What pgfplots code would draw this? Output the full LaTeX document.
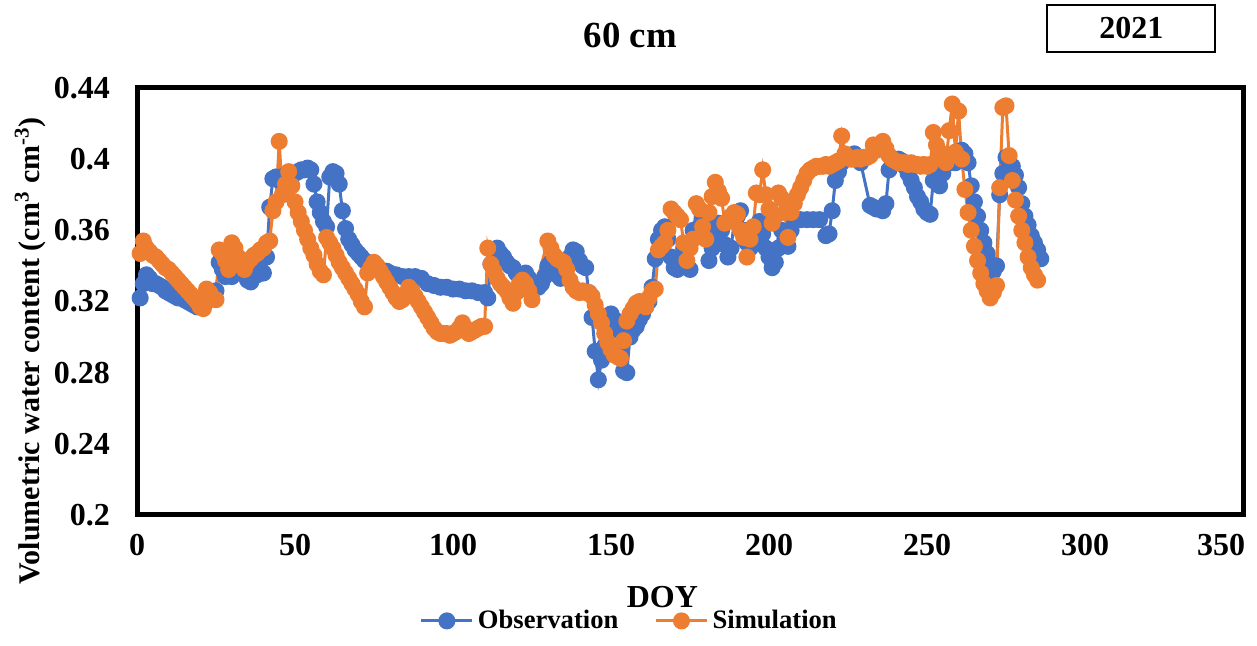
\documentclass[border=0pt]{standalone}
\usepackage{fontspec}
\setmainfont{Liberation Serif}
\usepackage{pgfplots}
\pgfplotsset{compat=1.18}
\definecolor{obs}{HTML}{4472C4}
\definecolor{sim}{HTML}{ED7D31}
\begin{document}
\begin{tikzpicture}
\begin{axis}[
  scale only axis, width=553pt, height=213.5pt,
  at={(0,0)}, anchor=south west,
  xmin=0, xmax=350, ymin=0.2, ymax=0.44,
  xtick={0,50,100,150,200,250,300},
  extra x ticks={350},
  extra x tick style={xticklabel style={xshift=-11pt}},
  ytick={0.2,0.24,0.28,0.32,0.36,0.4,0.44},
  major tick length=0pt,
  axis line style={line width=2.5pt},
  /pgf/number format/assume math mode=true,
  tick label style={font=\fontsize{16}{16}\selectfont\bfseries},
  yticklabel style={/pgf/number format/fixed, /pgf/number format/precision=2, xshift=-10pt},
  xticklabel style={yshift=-6pt},
  xlabel={DOY},
  xlabel style={font=\fontsize{16}{16}\selectfont\bfseries, at={(axis description cs:0.475,-0.192)}, anchor=center},
  ylabel={Volumetric water content (cm\textsuperscript{3} cm\textsuperscript{-3})},
  ylabel style={font=\fontsize{15}{15}\selectfont\bfseries, at={(axis description cs:-0.0967,0.385)}, anchor=center},
  clip=false,
  legend columns=2,
  legend style={at={(axis description cs:0.446,-0.248)}, anchor=center, draw=none, fill=none,
    font=\fontsize{13.3}{13.3}\selectfont\bfseries,
    /tikz/every even column/.append style={column sep=16pt}},
  legend image code/.code={\draw[#1] (0cm,0cm) -- (0.9cm,0cm); \draw[#1, mark repeat=1] plot coordinates {(0.45cm,0cm)};},
]
\addplot[color=obs, line width=1.5pt, mark=*, mark size=3.5pt, mark options={solid, fill=obs, draw=obs}] coordinates {
(1,0.322) (2,0.330) (3,0.335) (4,0.333) (5,0.330) (6,0.330) (7,0.329) (8,0.328) (9,0.326) (10,0.325)
(11,0.324) (12,0.323) (13,0.322) (14,0.322) (15,0.321) (16,0.320) (17,0.319) (18,0.318) (19,0.317) (20,0.317)
(21,0.318) (22,0.320) (23,0.322) (24,0.325) (25,0.326) (26,0.342) (27,0.338) (28,0.334) (29,0.336) (30,0.334)
(31,0.337) (32,0.340) (33,0.336) (34,0.335) (35,0.332) (36,0.331) (37,0.334) (38,0.335) (39,0.338) (40,0.336)
(41,0.345) (42,0.373) (43,0.389) (44,0.390) (45,0.388) (46,0.390) (47,0.391) (48,0.392) (49,0.391) (50,0.392)
(51,0.393) (52,0.394) (53,0.394) (54,0.395) (55,0.394) (56,0.386) (57,0.376) (58,0.370) (59,0.365) (60,0.362)
(61,0.390) (62,0.393) (63,0.392) (64,0.386) (65,0.371) (66,0.361) (67,0.355) (68,0.352) (69,0.349) (70,0.347)
(71,0.345) (72,0.343) (73,0.342) (74,0.341) (75,0.340) (76,0.339) (77,0.338) (78,0.337) (79,0.337) (80,0.336)
(82,0.335) (84,0.334) (86,0.334) (88,0.334) (90,0.333) (92,0.330) (94,0.329) (96,0.328) (98,0.328) (100,0.327)
(102,0.327) (104,0.326) (106,0.326) (108,0.325) (110,0.325) (111,0.322) (112,0.341) (113,0.349) (114,0.350) (115,0.347)
(116,0.345) (117,0.342) (118,0.340) (119,0.339) (120,0.336) (121,0.335) (122,0.333) (123,0.336) (124,0.333) (125,0.330)
(126,0.329) (127,0.328) (128,0.330) (129,0.334) (130,0.340) (131,0.342) (132,0.338) (133,0.335) (134,0.333) (135,0.334)
(136,0.340) (137,0.345) (138,0.349) (139,0.348) (140,0.343) (141,0.340) (142,0.339) (143,0.325) (144,0.311) (145,0.292)
(146,0.276) (147,0.287) (148,0.295) (149,0.305) (150,0.313) (151,0.310) (152,0.304) (153,0.292) (154,0.281) (155,0.280)
(156,0.300) (157,0.304) (158,0.306) (159,0.310) (160,0.313) (161,0.317) (162,0.320) (163,0.328) (164,0.344) (165,0.355)
(166,0.360) (167,0.362) (168,0.355) (169,0.345) (170,0.339) (171,0.338) (172,0.345) (173,0.350) (174,0.340) (175,0.338)
(176,0.360) (177,0.358) (178,0.362) (179,0.367) (180,0.360) (181,0.343) (182,0.350) (183,0.358) (184,0.364) (185,0.360)
(186,0.352) (187,0.345) (188,0.350) (189,0.365) (190,0.368) (191,0.371) (192,0.360) (193,0.353) (194,0.350) (195,0.355)
(196,0.362) (197,0.365) (198,0.358) (199,0.350) (200,0.345) (201,0.339) (202,0.342) (203,0.350) (204,0.360) (205,0.355)
(206,0.351) (207,0.360) (208,0.366) (209,0.366) (210,0.366) (212,0.366) (214,0.366) (216,0.366) (218,0.357) (219,0.358)
(220,0.371) (221,0.388) (222,0.393) (223,0.398) (224,0.400) (225,0.401) (226,0.402) (227,0.403) (228,0.400) (229,0.398)
(232,0.374) (233,0.373) (234,0.372) (235,0.372) (236,0.371) (237,0.375) (238,0.394) (239,0.397) (240,0.399) (241,0.400)
(242,0.399) (243,0.396) (244,0.392) (245,0.388) (246,0.384) (247,0.379) (248,0.376) (249,0.372) (250,0.370) (251,0.369)
(252,0.388) (253,0.387) (254,0.385) (255,0.392) (256,0.397) (257,0.398) (258,0.400) (259,0.398) (260,0.402) (261,0.405)
(262,0.403) (263,0.398) (264,0.385) (265,0.376) (266,0.368) (267,0.360) (268,0.353) (269,0.347) (270,0.341) (271,0.337)
(272,0.340) (273,0.380) (274,0.392) (275,0.401) (276,0.398) (277,0.396) (278,0.391) (279,0.384) (280,0.375) (281,0.368)
(282,0.363) (283,0.357) (284,0.353) (285,0.349) (286,0.344)
};
\addlegendentry{Observation}
\addplot[color=sim, line width=1.5pt, mark=*, mark size=3.5pt, mark options={solid, fill=sim, draw=sim}] coordinates {
(1,0.347) (2,0.354) (3,0.350) (4,0.348) (5,0.346) (6,0.345) (7,0.343) (8,0.341) (9,0.339) (10,0.338)
(11,0.336) (12,0.334) (13,0.332) (14,0.330) (15,0.328) (16,0.326) (17,0.324) (18,0.322) (19,0.320) (20,0.317)
(21,0.316) (22,0.327) (23,0.325) (24,0.322) (25,0.321) (26,0.349) (27,0.347) (28,0.343) (29,0.338) (30,0.353)
(31,0.350) (32,0.345) (33,0.340) (34,0.338) (35,0.342) (36,0.344) (37,0.346) (38,0.347) (39,0.349) (40,0.350)
(41,0.353) (42,0.354) (43,0.371) (44,0.376) (45,0.410) (46,0.380) (47,0.386) (48,0.393) (49,0.385) (50,0.376)
(51,0.370) (52,0.365) (53,0.360) (54,0.355) (55,0.350) (56,0.346) (57,0.341) (58,0.337) (59,0.335) (60,0.356)
(61,0.353) (62,0.350) (63,0.346) (64,0.342) (65,0.339) (66,0.336) (67,0.333) (68,0.330) (69,0.327) (70,0.324)
(71,0.320) (72,0.317) (73,0.336) (74,0.339) (75,0.342) (76,0.340) (77,0.337) (78,0.334) (79,0.331) (80,0.328)
(81,0.325) (82,0.322) (83,0.320) (84,0.321) (85,0.324) (86,0.328) (87,0.326) (88,0.323) (89,0.320) (90,0.317)
(91,0.314) (92,0.311) (93,0.308) (94,0.305) (95,0.303) (96,0.302) (97,0.302) (98,0.302) (99,0.301) (100,0.302)
(101,0.303) (102,0.305) (103,0.308) (104,0.305) (105,0.302) (106,0.303) (107,0.304) (108,0.305) (109,0.306) (110,0.306)
(111,0.350) (112,0.341) (113,0.337) (114,0.333) (115,0.330) (116,0.328) (117,0.326) (118,0.322) (119,0.319) (120,0.325)
(121,0.330) (122,0.332) (123,0.330) (124,0.326) (125,0.321) (130,0.354) (131,0.350) (132,0.346) (133,0.344) (134,0.343)
(135,0.342) (136,0.338) (137,0.332) (138,0.328) (139,0.326) (140,0.325) (141,0.326) (142,0.325) (143,0.325) (144,0.323)
(145,0.318) (146,0.313) (147,0.308) (148,0.302) (149,0.297) (150,0.293) (151,0.290) (152,0.289) (153,0.288) (154,0.298)
(155,0.309) (156,0.313) (157,0.316) (158,0.319) (159,0.320) (160,0.318) (161,0.317) (162,0.322) (163,0.326) (164,0.327)
(165,0.349) (166,0.351) (167,0.353) (168,0.360) (169,0.372) (170,0.370) (171,0.368) (172,0.366) (173,0.353) (174,0.343)
(175,0.350) (176,0.355) (177,0.375) (178,0.372) (179,0.362) (180,0.355) (181,0.370) (182,0.379) (183,0.387) (184,0.382)
(185,0.378) (186,0.364) (187,0.365) (188,0.368) (189,0.370) (190,0.369) (191,0.360) (192,0.356) (193,0.345) (194,0.355)
(195,0.362) (196,0.381) (197,0.380) (198,0.394) (199,0.380) (200,0.372) (201,0.364) (202,0.368) (203,0.381) (204,0.378)
(205,0.370) (206,0.356) (207,0.370) (208,0.375) (209,0.380) (210,0.384) (211,0.388) (212,0.392) (213,0.394) (214,0.395)
(215,0.396) (216,0.396) (217,0.396) (218,0.397) (219,0.396) (220,0.397) (221,0.398) (222,0.399) (223,0.413) (224,0.403)
(225,0.401) (226,0.400) (227,0.400) (228,0.401) (229,0.400) (230,0.401) (231,0.401) (232,0.402) (233,0.408) (234,0.405)
(235,0.407) (236,0.410) (237,0.406) (238,0.402) (239,0.400) (240,0.399) (241,0.398) (242,0.398) (243,0.398) (244,0.397)
(245,0.398) (246,0.397) (247,0.397) (248,0.396) (249,0.397) (250,0.396) (251,0.397) (252,0.415) (253,0.408) (254,0.404)
(255,0.400) (256,0.398) (257,0.416) (258,0.431) (259,0.404) (260,0.427) (261,0.400) (262,0.383) (263,0.370) (264,0.360)
(265,0.351) (266,0.343) (267,0.336) (268,0.330) (269,0.326) (270,0.322) (271,0.325) (272,0.329) (273,0.384) (274,0.429)
(275,0.430) (276,0.402) (277,0.388) (278,0.377) (279,0.368) (280,0.360) (281,0.353) (282,0.345) (283,0.339) (284,0.335)
(285,0.332)
};
\addlegendentry{Simulation}
\node[font=\fontsize{18.4}{18.4}\selectfont\bfseries] at (axis description cs:0.446,1.124) {60 cm};
\node[draw, line width=1pt, minimum width=84pt, minimum height=23.5pt, font=\fontsize{16}{16}\selectfont\bfseries] at (axis description cs:0.899,1.14) {2021};
\end{axis}
\pgfresetboundingbox
\path[use as bounding box] (-68.5pt,-65.5pt) rectangle (560pt,257.5pt);
\end{tikzpicture}
\end{document}
